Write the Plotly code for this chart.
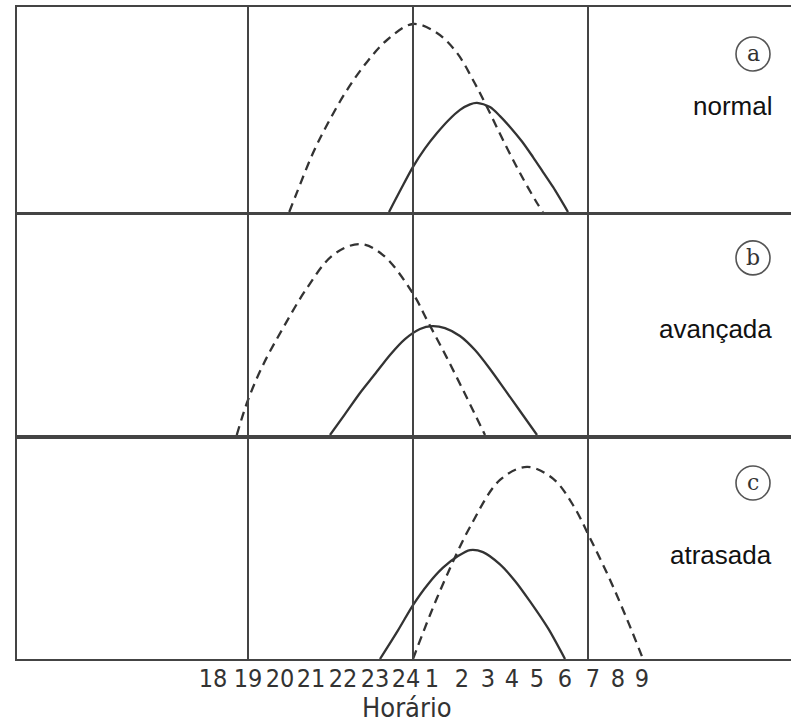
import plotly.graph_objects as go

# ---------------- data ----------------
# x unit: schematic hour scale of the drawing (right part = clock hour + 24)
tick_labels = ["18", "19", "20", "21", "22", "23", "24", "1", "2", "3", "4", "5", "6", "7", "8", "9"]
tick_x = [16.0, 17.4, 18.68, 19.92, 21.2, 22.48, 23.72, 24.76, 25.96, 27.0, 27.96, 28.96, 30.08, 31.2, 32.2, 33.16]
ref_lines_x = [17.4, 24.0, 31.0]   # vertical lines at 19h, 24h and 7h

panel_letters = ["a", "b", "c"]
panel_names = ["normal", "avançada", "atrasada"]
axis_title = "Horário"

# panel a (normal)
a_dash_x = [19.05, 19.35, 20.0, 20.6, 21.36, 22.16, 22.96, 24.0, 24.96, 25.76, 26.4, 26.96, 27.6, 28.28, 28.96, 29.2]
a_dash_y = [0.0, 0.093, 0.288, 0.434, 0.595, 0.732, 0.839, 0.917, 0.873, 0.776, 0.644, 0.512, 0.351, 0.19, 0.044, 0.0]
a_solid_x = [23.04, 23.52, 24.0, 24.48, 24.96, 25.44, 25.88, 26.28, 26.56, 27.08, 27.48, 27.88, 28.36, 28.8, 29.2, 29.6, 30.2]
a_solid_y = [0.0, 0.112, 0.22, 0.31, 0.385, 0.45, 0.498, 0.525, 0.532, 0.512, 0.468, 0.415, 0.344, 0.268, 0.195, 0.122, 0.0]

# panel b (avançada)
b_dash_x = [16.95, 17.4, 18.0, 18.8, 19.76, 20.8, 21.88, 22.8, 23.96, 24.6, 25.36, 26.16, 26.88]
b_dash_y = [0.0, 0.159, 0.318, 0.486, 0.668, 0.818, 0.868, 0.818, 0.65, 0.514, 0.35, 0.168, 0.0]
b_solid_x = [20.68, 21.28, 21.88, 22.48, 23.08, 23.68, 24.28, 24.76, 25.28, 25.88, 26.48, 27.08, 27.68, 28.28, 28.96]
b_solid_y = [0.0, 0.095, 0.191, 0.277, 0.364, 0.436, 0.482, 0.495, 0.486, 0.45, 0.386, 0.30, 0.205, 0.109, 0.0]

# panel c (atrasada)
c_dash_x = [24.0, 24.68, 25.36, 26.28, 27.48, 28.56, 29.6, 30.4, 31.08, 31.88, 32.6, 33.2]
c_dash_y = [0.0, 0.2, 0.382, 0.6, 0.814, 0.873, 0.82, 0.7, 0.55, 0.36, 0.17, 0.0]
c_solid_x = [22.68, 23.4, 24.0, 24.6, 25.2, 25.8, 26.28, 26.8, 27.48, 28.08, 28.68, 29.4, 30.08]
c_solid_y = [0.0, 0.13, 0.245, 0.34, 0.415, 0.468, 0.495, 0.486, 0.43, 0.355, 0.262, 0.14, 0.0]

dash_series = [(a_dash_x, a_dash_y), (b_dash_x, b_dash_y), (c_dash_x, c_dash_y)]
solid_series = [(a_solid_x, a_solid_y), (b_solid_x, b_solid_y), (c_solid_x, c_solid_y)]

# ---------------- figure ----------------
W, H = 791, 724
ML, MR, MT, MB = 17, 0, 7, 65
plot_h = H - MT - MB
def py2paper(py):
    return (H - MB - py) / plot_h

panel_px = [(7, 212), (215, 435), (439, 659)]
domains = [[max(0.0, py2paper(b)), min(1.0, py2paper(t))] for (t, b) in panel_px]

LINE = "#333333"
X_RANGE = [8.16, 39.12]

fig = go.Figure()
for i in range(3):
    xa = "x" if i == 0 else f"x{i+1}"
    ya = "y" if i == 0 else f"y{i+1}"
    dx, dy = dash_series[i]
    sx, sy = solid_series[i]
    fig.add_trace(go.Scatter(x=dx, y=dy, mode="lines", xaxis=xa, yaxis=ya,
                             line=dict(color=LINE, width=2.3, dash="9px,6px", shape="spline", smoothing=1.0),
                             showlegend=False, hoverinfo="skip"))
    fig.add_trace(go.Scatter(x=sx, y=sy, mode="lines", xaxis=xa, yaxis=ya,
                             line=dict(color=LINE, width=2.3, shape="spline", smoothing=0.8),
                             showlegend=False, hoverinfo="skip"))

layout = dict(width=W, height=H, margin=dict(l=ML, r=MR, t=MT, b=MB),
              paper_bgcolor="white", plot_bgcolor="white", showlegend=False)
for i in range(3):
    xk = "xaxis" if i == 0 else f"xaxis{i+1}"
    yk = "yaxis" if i == 0 else f"yaxis{i+1}"
    ya = "y" if i == 0 else f"y{i+1}"
    xa = dict(range=X_RANGE, showgrid=False, zeroline=False, showline=True, mirror=True,
              linecolor="#444", linewidth=2, anchor=ya, fixedrange=True)
    if i == 2:
        xa.update(tickmode="array", tickvals=tick_x, ticktext=tick_labels, ticks="",
                  ticklabelstandoff=-4,
                  tickfont=dict(family="Liberation Sans Narrow, DejaVu Sans Condensed, Arial Narrow, sans-serif",
                                size=25, color="#333"))
    else:
        xa.update(showticklabels=False, ticks="")
    layout[xk] = xa
    layout[yk] = dict(domain=domains[i], range=[0, 1], showgrid=False, zeroline=False,
                      showline=True, mirror=False, linecolor="#444", linewidth=2,
                      showticklabels=False, ticks="", anchor="x" if i == 0 else f"x{i+1}",
                      fixedrange=True)
fig.update_layout(**layout)

# axis title
fig.add_annotation(xref="paper", yref="paper", x=(407 - ML) / (W - ML - MR), y=py2paper(708),
                   text=axis_title, showarrow=False, xanchor="center", yanchor="middle",
                   font=dict(family="Liberation Sans Narrow, DejaVu Sans Condensed, sans-serif",
                             size=27, color="#333"))

# vertical reference lines and panel markers
circle_y = [0.771, 0.805, 0.8]
for i in range(3):
    xr = "x" if i == 0 else f"x{i+1}"
    yr = "y" if i == 0 else f"y{i+1}"
    for xv in ref_lines_x:
        fig.add_shape(type="line", xref=xr, yref=f"{yr} domain", x0=xv, x1=xv, y0=0, y1=1,
                      line=dict(color="#444", width=2))
    fig.add_shape(type="circle", xref=xr, yref=yr, xsizemode="pixel", ysizemode="pixel",
                  xanchor=37.6, yanchor=circle_y[i], x0=-17, x1=17, y0=-17, y1=17,
                  line=dict(color="#555", width=1.6))
    fig.add_annotation(xref=xr, yref=yr, x=37.6, y=circle_y[i], text=panel_letters[i],
                       showarrow=False, font=dict(family="DejaVu Serif, serif", size=22, color="#333"))
name_y = [0.517, 0.482, 0.473]
for i in range(3):
    xr = "x" if i == 0 else f"x{i+1}"
    yr = "y" if i == 0 else f"y{i+1}"
    fig.add_annotation(xref=xr, yref=yr, x=38.44, y=name_y[i], text=panel_names[i], xanchor="right",
                       showarrow=False, font=dict(family="Liberation Sans, Arial, sans-serif", size=26, color="#111"))

fig.write_html("out.html", config={"displayModeBar": False, "staticPlot": True},
               post_script="document.body.style.margin='0';document.body.style.overflow='hidden';")
